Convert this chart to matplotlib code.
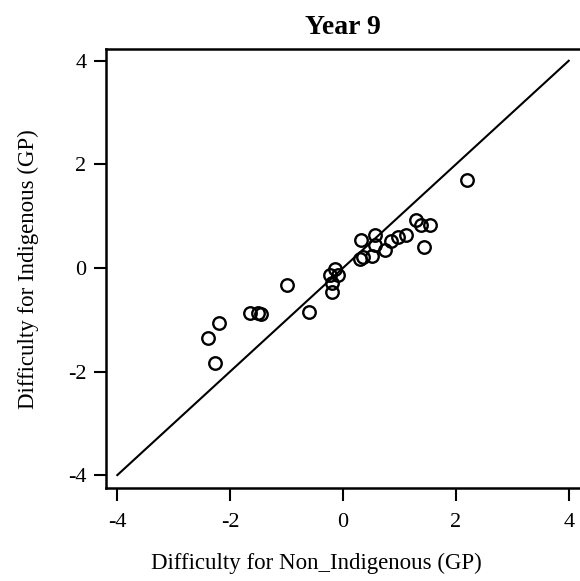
import numpy as np
import matplotlib
matplotlib.use("Agg")
import matplotlib.pyplot as plt

# item difficulties
non_indigenous = [2.19, 1.29, 1.39, 1.55, 1.43, 1.12, 0.98, 0.85, 0.74, 0.56,
                  0.56, 0.52, 0.32, 0.36, 0.30, -0.15, -0.23, -0.09, -0.20, -0.20,
                  -1.00, -0.60, -1.64, -1.50, -1.46, -2.20, -2.39, -2.27]
indigenous = [1.69, 0.93, 0.83, 0.82, 0.40, 0.63, 0.59, 0.52, 0.35, 0.63,
              0.45, 0.24, 0.54, 0.22, 0.17, -0.03, -0.14, -0.14, -0.30, -0.47,
              -0.33, -0.86, -0.87, -0.87, -0.89, -1.06, -1.36, -1.84]
identity = [-4, 4]
ticks = [-4, -2, 0, 2, 4]

plt.rcParams["font.family"] = ["Liberation Serif", "DejaVu Serif"]
plt.rcParams["axes.unicode_minus"] = False

fig = plt.figure(figsize=(5.8, 5.81), dpi=100)
ax = fig.add_axes([0.1828, 0.160, 0.8172, 0.755])

ax.plot(identity, identity, color="black", lw=1.5)
ax.plot(non_indigenous, indigenous, "o", mfc="none", mec="black", mew=1.7, ms=9)

ax.set_xlim(-4.2, 4.2)
ax.set_ylim(-4.25, 4.22)
ax.set_xticks(ticks)
ax.set_yticks(ticks)
ax.spines["right"].set_visible(False)
for s in ["left", "bottom", "top"]:
    ax.spines[s].set_linewidth(1.8)
ax.tick_params(direction="out", length=9, width=1.5, labelsize=16)
ax.tick_params(axis="x", pad=9)
ax.tick_params(axis="y", pad=5)

ax.set_xlabel("Difficulty for Non_Indigenous (GP)", fontsize=16.5)
ax.xaxis.set_label_coords(0.443, -0.148)
ax.set_ylabel("Difficulty for Indigenous (GP)", fontsize=16.5, labelpad=21)
ax.set_title("Year 9", fontsize=20, fontweight="bold", pad=11)

fig.savefig("out.png", dpi=100)
